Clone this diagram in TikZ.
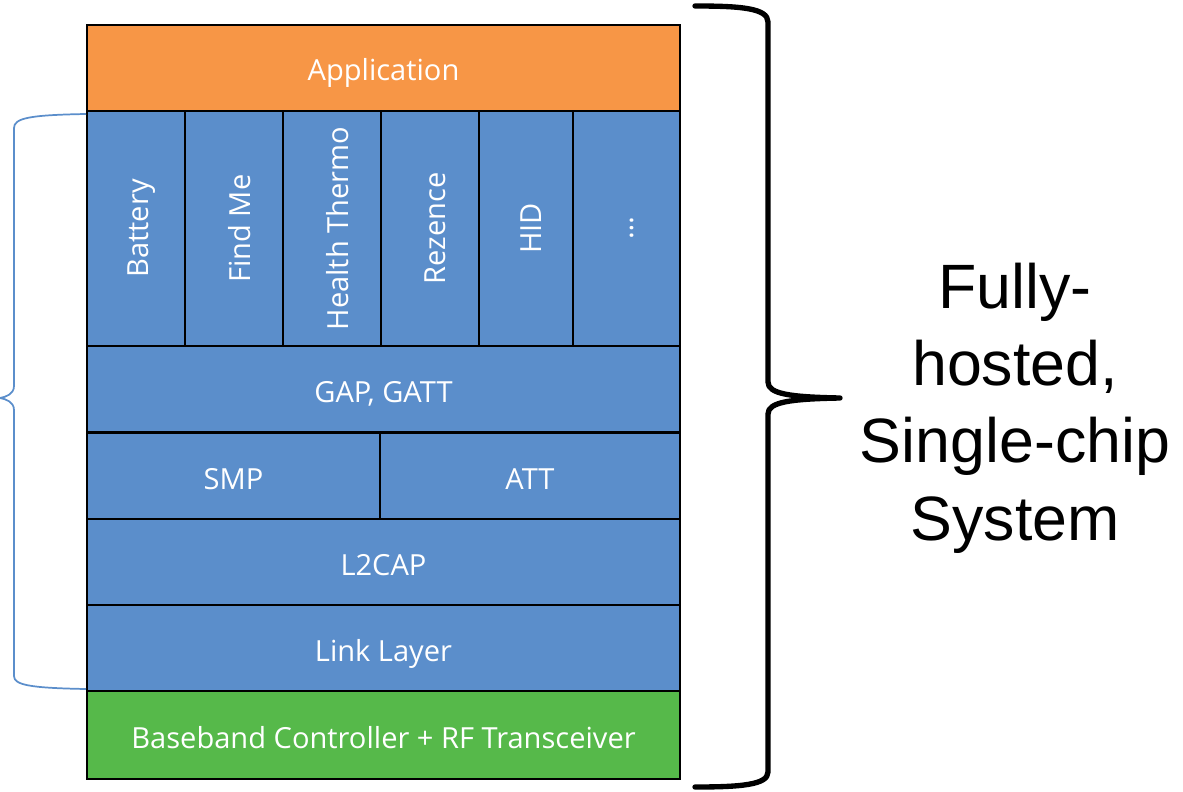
\documentclass[tikz,border=0pt]{standalone}
\usepackage{fontspec}
\setmainfont{Open Sans}
\newfontfamily\bigfont{Liberation Sans}
\definecolor{appor}{HTML}{F79646}
\definecolor{layblue}{HTML}{5B8ECB}
\definecolor{bbgreen}{HTML}{56B94A}
\definecolor{lbrace}{HTML}{5B8ECB}
\newcommand{\vlab}[1]{\rotatebox{90}{\raisebox{-4pt}[\height][\depth]{#1}}}
\begin{document}
\begin{tikzpicture}[x=0.75pt,y=-0.75pt,
  layer/.style={draw=black,line width=1.5pt,fill=layblue,text=white,
    font=\fontsize{21.8}{24}\selectfont,inner sep=0pt,anchor=north west},
  prof/.style={layer,minimum height=176.25pt},
  row/.style={layer,minimum height=64.5pt,text depth=0pt,text height=19.5pt}]
\useasboundingbox (0,0) rectangle (1183,792);
% Application
\node[row,fill=appor,minimum width=444.75pt] (app) at (86,24) {Application};
% profiles
\node[prof,minimum width=73.5pt] (bat) at (86,110) {\vlab{Battery}};
\node[prof,minimum width=73.5pt] (find) at (184,110) {\vlab{Find Me}};
\node[prof,minimum width=73.5pt] (health) at (282,110) {\vlab{Health Thermo}};
\node[prof,minimum width=73.5pt] (rez) at (380,110) {\vlab{Rezence}};
\node[prof,minimum width=70.5pt] (hid) at (478,110) {\vlab{HID}};
\node[prof,minimum width=80.25pt] (more) at (572,110) {\vlab{\dots}};
% lower layers
\node[row,minimum width=444.75pt] (gap) at (86,345) {GAP, GATT};
\node[row,minimum width=219.75pt] (smp) at (86,432) {SMP};
\node[row,minimum width=225pt] (att) at (379,432) {ATT};
\node[row,minimum width=444.75pt] (l2cap) at (86,518) {L2CAP};
\node[row,minimum width=444.75pt] (link) at (86,604) {Link Layer};
\node[row,fill=bbgreen,minimum width=444.75pt,minimum height=66pt] (bb) at (86,690) {Baseband Controller + RF Transceiver};
% left brace
\coordinate (lt) at (86,114);
\coordinate (lb) at (86,689);
\coordinate (ltip) at (0,398);
\draw[lbrace,line width=1.3pt] (lt) .. controls (30,115) and (14,118) .. (14,128)
  -- (14,386) .. controls (14,394) and (6,397) .. (ltip)
  .. controls (6,399) and (14,402) .. (14,410)
  -- (14,676) .. controls (14,685) and (30,688) .. (lb);
% right brace
\coordinate (rt) at (695,6);
\coordinate (rb) at (695,787);
\coordinate (rtip) at (840,398);
\draw[black,line width=4pt,line cap=round,line join=round] (rt) .. controls (740,6) and (768,8) .. (768,22)
  -- (768,382) .. controls (768,394) and (790,397) .. (rtip)
  .. controls (790,399) and (768,402) .. (768,414)
  -- (768,772) .. controls (768,785) and (740,787) .. (rb);
\node[font=\bigfont\fontsize{47}{58}\selectfont,align=center,anchor=center] (label) at (1015,408)
  {Fully-\\hosted,\\Single-chip\\System};
\end{tikzpicture}
\end{document}
